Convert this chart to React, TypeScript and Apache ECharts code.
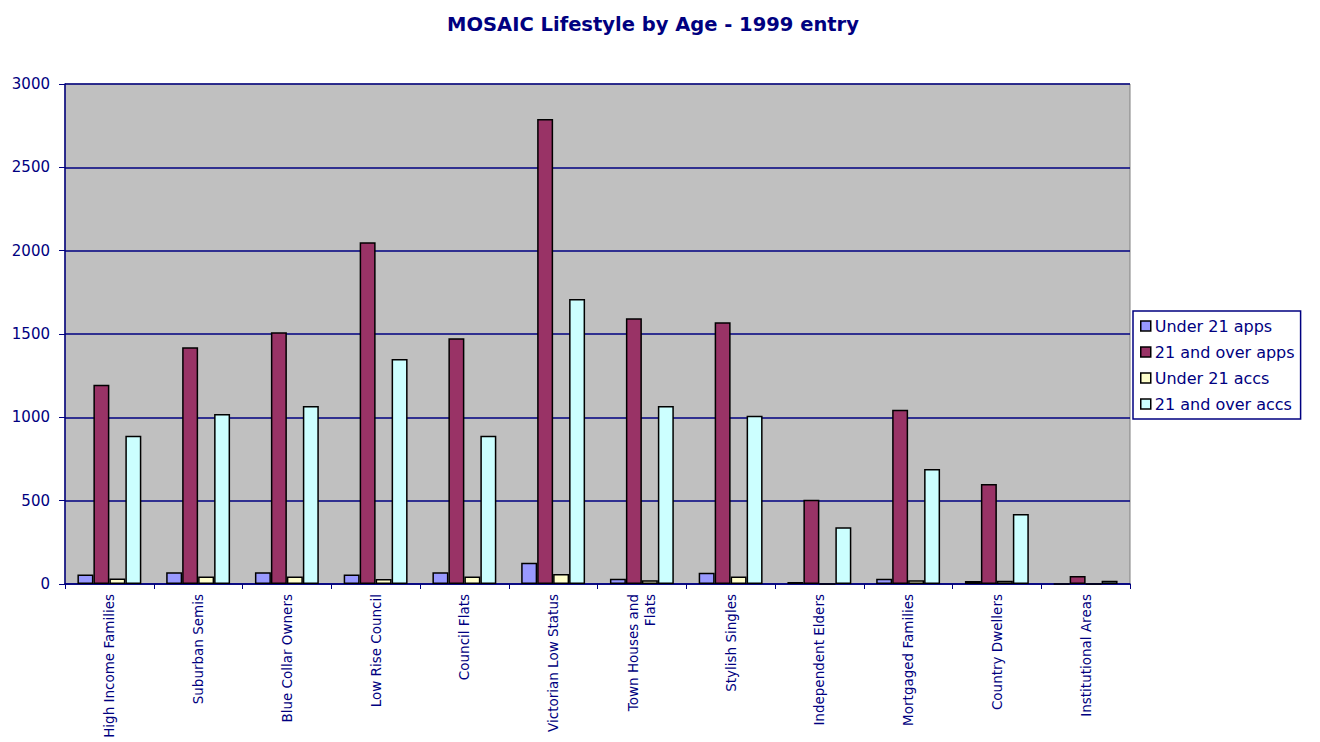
import React, { useEffect, useRef } from "react";
import * as echarts from "echarts";

const categories = [
  "High Income Families",
  "Suburban Semis",
  "Blue Collar Owners",
  "Low Rise Council",
  "Council Flats",
  "Victorian Low Status",
  "Town Houses and Flats",
  "Stylish Singles",
  "Independent Elders",
  "Mortgaged Families",
  "Country Dwellers",
  "Institutional Areas",
];

const under21Apps = [57, 70, 70, 57, 70, 127, 32, 68, 12, 32, 18, 0];
const over21Apps = [1195, 1420, 1510, 2050, 1475, 2790, 1595, 1570, 505, 1045, 600, 48];
const under21Accs = [33, 45, 45, 30, 45, 60, 22, 45, 0, 22, 20, 0];
const over21Accs = [890, 1020, 1068, 1350, 890, 1710, 1068, 1010, 340, 690, 420, 20];

const seriesNames = ["Under 21 apps", "21 and over apps", "Under 21 accs", "21 and over accs"];
const seriesColors = ["#9999FF", "#993366", "#FFFFCC", "#CCFFFF"];
const yTicks = [0, 500, 1000, 1500, 2000, 2500, 3000];

const NAVY = "#000080";
const FONT = "DejaVu Sans, Verdana, sans-serif";

export default function App() {
  const ref = useRef<HTMLDivElement>(null);
  useEffect(() => {
    if (!ref.current) return;
    const chart = echarts.init(ref.current, undefined, { renderer: "svg" });
    const data = [under21Apps, over21Apps, under21Accs, over21Accs];
    chart.setOption({
      animation: false,
      backgroundColor: "#FFFFFF",
      title: {
        text: "MOSAIC Lifestyle by Age - 1999 entry",
        left: 648,
        textAlign: "center",
        top: 9,
        textStyle: { color: NAVY, fontFamily: FONT, fontWeight: "bold", fontSize: 19.5 },
      },
      legend: {
        orient: "vertical",
        left: 1133,
        top: 311,
        width: 173,
        padding: [6, 6, 6, 7],
        itemGap: 8,
        itemWidth: 10,
        itemHeight: 10,
        backgroundColor: "#FFFFFF",
        borderColor: NAVY,
        borderWidth: 1.5,
        borderRadius: 0,
        icon: "rect",
        data: seriesNames.map((name, i) => ({
          name,
          itemStyle: { color: seriesColors[i], borderColor: "#000000", borderWidth: 1.5 },
        })),
        textStyle: { color: NAVY, fontFamily: FONT, fontSize: 16, lineHeight: 18, padding: [0, 0, 0, -1] },
      },
      grid: {
        left: 65,
        right: 190,
        top: 84,
        bottom: 158,
        show: true,
        backgroundColor: "#C0C0C0",
        borderColor: "#808080",
        borderWidth: 1,
      },
      xAxis: {
        type: "category",
        data: categories,
        axisLine: { lineStyle: { color: NAVY, width: 1.5 } },
        axisTick: { show: true, length: 5, lineStyle: { color: NAVY } },
        axisLabel: {
          rotate: 90,
          interval: 0,
          margin: 10,
          color: NAVY,
          fontFamily: FONT,
          fontSize: 13.5,
          lineHeight: 17,
          formatter: (v: string) => (v.length > 20 ? v.replace(" and ", " and\n") : v),
        },
      },
      yAxis: {
        type: "value",
        min: yTicks[0],
        max: yTicks[yTicks.length - 1],
        interval: 500,
        axisLine: { show: true, lineStyle: { color: NAVY, width: 1.5 } },
        axisTick: { show: true, length: 6, lineStyle: { color: NAVY } },
        splitLine: { lineStyle: { color: NAVY, width: 1.5 } },
        axisLabel: {
          color: NAVY,
          fontFamily: FONT,
          fontSize: 15,
          margin: 15,
          formatter: (v: number) => String(v),
        },
      },
      series: seriesNames.map((name, i) => ({
        name,
        type: "bar",
        data: data[i],
        barGap: "0%",
        barCategoryGap: "28%",
        itemStyle: { color: seriesColors[i], borderColor: "#000000", borderWidth: 1.5 },
      })),
    });
    return () => chart.dispose();
  }, []);
  return <div ref={ref} style={{ width: 1320, height: 742, position: "absolute", left: 0, top: 0 }} />;
}
